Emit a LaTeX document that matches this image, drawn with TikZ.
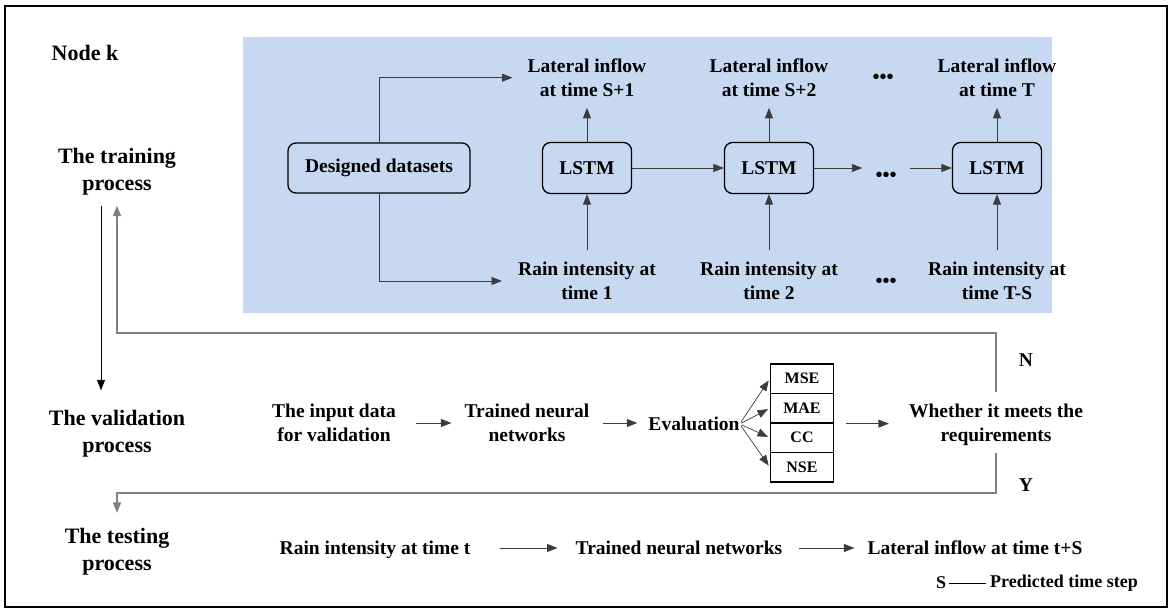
\documentclass[tikz,border=0pt]{standalone}
\usepackage{fontspec}
\setmainfont{Liberation Serif}[BoldFont={Liberation Serif Bold}]
\newfontfamily\timesfont{Liberation Serif}[BoldFont={Liberation Serif Bold}]
\usetikzlibrary{arrows.meta}
\definecolor{panelblue}{RGB}{199,217,240}
\definecolor{loopgray}{RGB}{128,128,128}
\definecolor{linegray}{RGB}{60,60,60}

\begin{document}
\begin{tikzpicture}[x=1pt,y=-1pt,
  txt/.style={font=\timesfont\bfseries\fontsize{19.5}{24}\selectfont, align=center, inner sep=0pt},
  head/.style={font=\timesfont\bfseries\fontsize{22}{27}\selectfont, align=center, inner sep=0pt},
  outlbl/.style={txt, inner xsep=15pt, inner ysep=11pt},
  inlbl/.style={txt, inner xsep=16pt, inner ysep=12pt},
  cell/.style={draw=black, line width=1.3pt, rounded corners=8pt, minimum width=89pt,
    minimum height=51pt, txt},
  metric/.style={draw=black, line width=1.3pt, minimum width=63pt, minimum height=29.5pt,
    font=\timesfont\bfseries\fontsize{16}{16}\selectfont, inner sep=0pt},
  dotsnode/.style={font=\timesfont\bfseries\fontsize{20}{20}\selectfont, inner sep=0pt},
  arr/.style={-{Triangle[length=10.5pt,width=8pt]}, line width=0.9pt, draw=linegray},
  loopline/.style={-{Triangle[length=10.5pt,width=8pt]}, line width=1.5pt, draw=loopgray}
]
\useasboundingbox (0,0) rectangle (1173,612);
\draw[line width=1.6pt] (5,6) rectangle (1167,607);

% training panel
\fill[panelblue] (243,37) rectangle (1052,313);

% stage headings
\node[head] (nodek) at (85,53) {Node k};
\node[head] (train) at (117,172) {The training\\process};
\node[head] (valid) at (117,434) {The validation\\process};
\node[head] (test) at (117,551.6) {The testing\\process};

% unrolled LSTM chain
\node[cell, minimum width=182pt, minimum height=50pt] (data) at (379,168) {Designed datasets};
\node[cell] (l1) at (587,168) {LSTM};
\node[cell] (l2) at (769,168) {LSTM};
\node[cell] (l3) at (997,168) {LSTM};

\node[outlbl] (o1) at (587,77.7) {Lateral inflow\\at time S+1};
\node[outlbl] (o2) at (769,77.7) {Lateral inflow\\at time S+2};
\node[outlbl] (o3) at (997,77.7) {Lateral inflow\\at time T};
\node[dotsnode] (odots) at (883,79) {\textbullet\textbullet\textbullet};

\node[inlbl] (r1) at (587,281) {Rain intensity at\\time 1};
\node[inlbl] (r2) at (769,281) {Rain intensity at\\time 2};
\node[inlbl] (r3) at (997,281) {Rain intensity at\\time T-S};
\node[dotsnode] (rdots) at (886,283) {\textbullet\textbullet\textbullet};

\node[dotsnode, inner xsep=13pt] (mdots) at (886,177) {\textbullet\textbullet\textbullet};

\draw[arr] (data.north) |- (o1.west);
\draw[arr] (data.south) |- (r1.west);
\foreach \i in {1,2,3}{
  \draw[arr] (l\i.north) -- (o\i.south);
  \draw[arr] (r\i.north) -- (l\i.south);
}
\draw[arr] (l1.east) -- (l2.west);
\draw[arr] (l2.east) -- (l2.east -| mdots.west);
\draw[arr] (l3.west -| mdots.east) -- (l3.west);

% validation row
\node[txt] (vin) at (334,423) {The input data\\for validation};
\node[txt] (vnet) at (527,423) {Trained neural\\networks};
\node[txt] (eval) at (694,424) {Evaluation};
\node[metric] (mse) at (802,378.75) {MSE};
\node[metric] (mae) at (802,408.25) {MAE};
\node[metric] (cc)  at (802,437.75) {CC};
\node[metric] (nse) at (802,467.25) {NSE};
\node[txt] (meets) at (996,425) {Whether it meets the\\requirements};
\node[txt] (no) at (1026,360) {N};
\node[txt] (yes) at (1026,485) {Y};

\draw[arr, shorten <=20pt, shorten >=13pt] (vin.east) -- (vin.east -| vnet.west);
\draw[arr, shorten <=13pt, shorten >=11pt] (vnet.east) -- (vnet.east -| eval.west);
\foreach \m in {mse,mae,cc,nse}{
  \draw[arr, line width=0.7pt, shorten <=2pt, shorten >=2pt] (eval.east) -- (\m.west);
}
\draw[arr, shorten <=12pt, shorten >=20pt] (mae.south east) -- (mae.south east -| meets.west);

% feedback loops
\draw[arr, draw=black] ([xshift=-16pt,yshift=-10pt]train.south) -- ([xshift=-16pt,yshift=20pt]valid.north);
\draw[loopline] ([yshift=12pt]meets.north) -- ++(0,-59) -| ([yshift=-10pt]train.south);
\draw[loopline] ([yshift=-7pt]meets.south) -- ++(0,40) -| ([yshift=15pt]test.north);

% testing row
\node[txt] (tin) at (375,550) {Rain intensity at time t};
\node[txt] (tnet) at (679,548) {Trained neural networks};
\node[txt] (tout) at (975,548) {Lateral inflow at time t+S};
\draw[arr, shorten <=29pt, shorten >=18pt] (tnet.west -| tin.east) -- (tnet.west);
\draw[arr, shorten <=17pt, shorten >=13pt] (tnet.east) -- (tnet.east -| tout.west);

% legend
\node[txt, font=\timesfont\bfseries\fontsize{18}{18}\selectfont] (legs) at (941,583) {S};
\node[txt, font=\timesfont\bfseries\fontsize{18}{18}\selectfont, anchor=west] (legp) at (990,583) {Predicted time step};
\draw[line width=0.8pt, shorten <=3pt, shorten >=4pt] (legs.east) -- (legp.west);
\end{tikzpicture}
\end{document}
